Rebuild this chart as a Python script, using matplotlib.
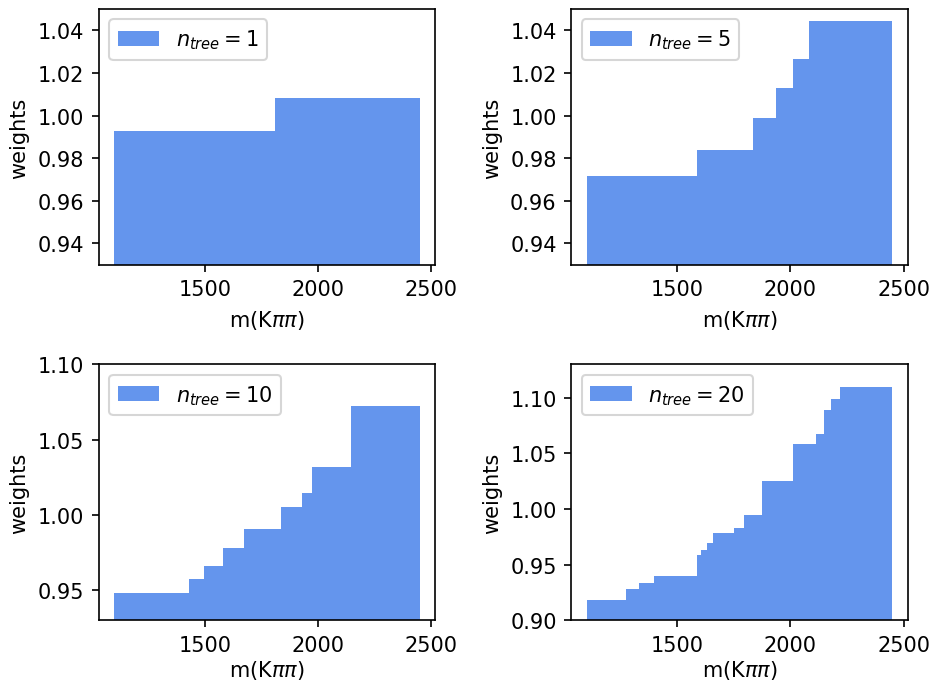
import numpy as np
from matplotlib import pyplot as plt

# bin edges and weights, one set per n_tree
edges_1 = [1100, 1810, 2450]
weights_1 = [0.9927, 1.0081]

edges_5 = [1100, 1588, 1836, 1934, 2013, 2080, 2450]
weights_5 = [0.9716, 0.9838, 0.9988, 1.0128, 1.0264, 1.0442]

edges_10 = [1100, 1429, 1496, 1579, 1672, 1835, 1932, 1972, 2148, 2450]
weights_10 = [0.948, 0.9575, 0.9662, 0.9782, 0.9908, 1.0053, 1.0146, 1.032, 1.072]

edges_20 = [1100, 1274, 1332, 1398, 1588, 1606, 1632, 1659, 1752, 1796,
            1876, 2013, 2111, 2150, 2177, 2217, 2450]
weights_20 = [0.918, 0.9279, 0.9333, 0.9396, 0.9584, 0.9629, 0.9695, 0.9783,
              0.9826, 0.9946, 1.0252, 1.0584, 1.0671, 1.0889, 1.0991, 1.1099]

n_trees = [1, 5, 10, 20]
all_edges = [edges_1, edges_5, edges_10, edges_20]
all_weights = [weights_1, weights_5, weights_10, weights_20]
ylims = [(0.93, 1.05), (0.93, 1.05), (0.93, 1.10), (0.90, 1.13)]

fig, axes = plt.subplots(2, 2, figsize=(933 / 150, 684 / 150), dpi=150)

positions = [
    [0.1061, 0.6115, 0.3601, 0.3738],
    [0.6123, 0.6115, 0.3606, 0.3738],
    [0.1061, 0.0917, 0.3601, 0.3742],
    [0.6123, 0.0917, 0.3606, 0.3742],
]

for i, (ax, n, e, w, yl, pos) in enumerate(zip(axes.flat, n_trees, all_edges, all_weights, ylims, positions)):
    e = np.array(e)
    ax.bar(e[:-1], w, width=np.diff(e), align='edge', color='cornflowerblue',
           label=r'$n_{tree} = %d$' % n)
    ax.set_ylim(*yl)
    ax.set_xticks([1500, 2000, 2500])
    # bottom row sits close to the figure edge, pull its label up a little
    ax.set_xlabel(r'm(K$\pi\pi$)', labelpad=4 if i < 2 else 1.5)
    ax.set_ylabel('weights')
    ax.legend(loc='upper left')
    ax.set_position(pos)

axes[1, 0].set_yticks([0.95, 1.00, 1.05, 1.10])
axes[1, 1].set_yticks([0.90, 0.95, 1.00, 1.05, 1.10])

fig.savefig('out.png', dpi=150)
